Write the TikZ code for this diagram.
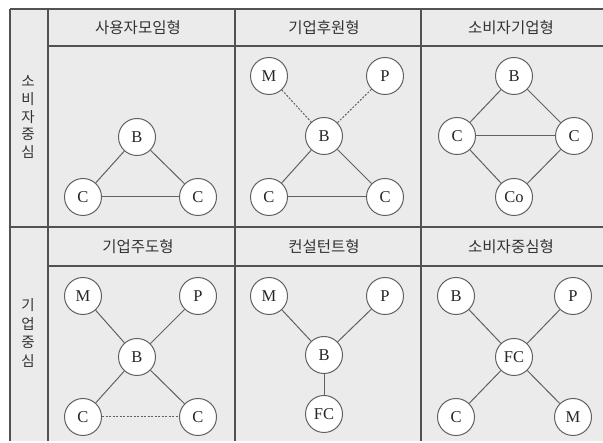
\documentclass[tikz,border=0pt]{standalone}
\usepackage{fontspec}
\setmainfont{Liberation Serif}
\newfontfamily\kr{Noto Sans CJK KR}
\begin{document}
\begin{tikzpicture}[x=1pt,y=-1pt,
  nd/.style={circle,draw=black!62,fill=white,line width=1pt,minimum size=37pt,inner sep=0pt,font=\fontsize{16.5}{16.5}\selectfont,text=black!85},
  ln/.style={draw=black!62,line width=1pt},
  dl/.style={ln,dash pattern=on 2pt off 1.5pt},
  gridln/.style={draw=black!68,line width=1.1pt},
  hd/.style={font=\kr\fontsize{15.5}{18}\selectfont,text=black!80},
  side/.style={font=\kr\fontsize{14.5}{17.8}\selectfont,align=center,text=black!80}]
\useasboundingbox (0,0) rectangle (603,443);
\fill[black!8] (10,9) rectangle (603,441);
% table lines
\draw[gridln] (10,9) -- (603,9);
\draw[gridln] (10,9) -- (10,441);
\draw[gridln] (48,9) -- (48,441);
\draw[gridln] (235,9) -- (235,441);
\draw[gridln] (421,9) -- (421,441);
\draw[gridln] (48,46) -- (603,46);
\draw[gridln] (10,227) -- (603,227);
\draw[gridln] (48,266) -- (603,266);
% side labels
\node[side] (s1) at (28,117) {소\\비\\자\\중\\심};
\node[side,font=\kr\fontsize{14.5}{18.6}\selectfont] (s2) at (28,333) {기\\업\\중\\심};
% headers
\node[hd] (h1) at (138,28) {사용자모임형};
\node[hd] (h2) at (324,28) {기업후원형};
\node[hd] (h3) at (511,28) {소비자기업형};
\node[hd] (h4) at (138,247) {기업주도형};
\node[hd] (h5) at (324,247) {컨설턴트형};
\node[hd] (h6) at (511,247) {소비자중심형};
% panel 1
\node[nd] (a1) at (137,137) {B};
\node[nd] (a2) at (83,197) {C};
\node[nd] (a3) at (198,197) {C};
\draw[ln] (a1) -- (a2);
\draw[ln] (a1) -- (a3);
\draw[ln] (a2) -- (a3);
% panel 2
\node[nd] (b1) at (269,76) {M};
\node[nd] (b2) at (385,76) {P};
\node[nd] (b3) at (324,136) {B};
\node[nd] (b4) at (269,197) {C};
\node[nd] (b5) at (385,197) {C};
\draw[dl] (b1) -- (b3);
\draw[dl] (b2) -- (b3);
\draw[ln] (b3) -- (b4);
\draw[ln] (b3) -- (b5);
\draw[ln] (b4) -- (b5);
% panel 3
\node[nd] (c1) at (514,76) {B};
\node[nd] (c2) at (457,136) {C};
\node[nd] (c3) at (574,136) {C};
\node[nd] (c4) at (514,197) {Co};
\draw[ln] (c1) -- (c2);
\draw[ln] (c1) -- (c3);
\draw[ln] (c2) -- (c3);
\draw[ln] (c2) -- (c4);
\draw[ln] (c3) -- (c4);
% panel 4
\node[nd] (d1) at (83,296) {M};
\node[nd] (d2) at (198,296) {P};
\node[nd] (d3) at (137,357) {B};
\node[nd] (d4) at (83,417) {C};
\node[nd] (d5) at (198,417) {C};
\draw[ln] (d1) -- (d3);
\draw[ln] (d2) -- (d3);
\draw[ln] (d3) -- (d4);
\draw[ln] (d3) -- (d5);
\draw[dl] (d4) -- (d5);
% panel 5
\node[nd] (e1) at (269,296) {M};
\node[nd] (e2) at (385,296) {P};
\node[nd] (e3) at (324,355) {B};
\node[nd] (e4) at (324,414) {FC};
\draw[ln] (e1) -- (e3);
\draw[ln] (e2) -- (e3);
\draw[ln] (e3) -- (e4);
% panel 6
\node[nd] (f1) at (456,296) {B};
\node[nd] (f2) at (573,296) {P};
\node[nd] (f3) at (514,357) {FC};
\node[nd] (f4) at (456,417) {C};
\node[nd] (f5) at (573,417) {M};
\draw[ln] (f1) -- (f3);
\draw[ln] (f2) -- (f3);
\draw[ln] (f3) -- (f4);
\draw[ln] (f3) -- (f5);
\end{tikzpicture}
\end{document}
